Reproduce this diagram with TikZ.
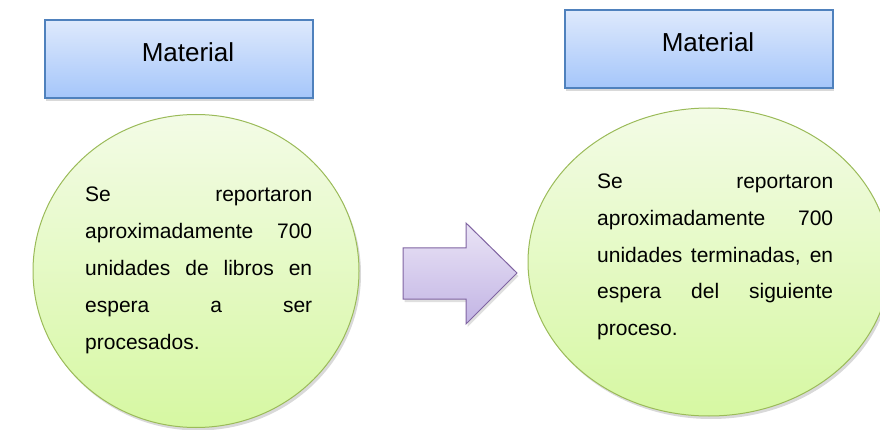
\documentclass[tikz,border=0pt]{standalone}
\usepackage{fontspec}
\setmainfont{Liberation Sans}
\usetikzlibrary{shapes.geometric,shadows}

\definecolor{cajaarriba}{RGB}{222,233,252}
\definecolor{cajaabajo}{RGB}{165,198,250}
\definecolor{cajalinea}{RGB}{79,129,189}
\definecolor{globoarriba}{RGB}{243,251,230}
\definecolor{globoabajo}{RGB}{214,248,162}
\definecolor{globolinea}{RGB}{155,187,89}
\definecolor{flechaarriba}{RGB}{234,228,246}
\definecolor{flechaabajo}{RGB}{194,180,228}
\definecolor{flechalinea}{RGB}{128,100,162}

\tikzset{
  caja/.style={rectangle, draw=cajalinea, line width=1.2pt, top color=cajaarriba, bottom color=cajaabajo,
    minimum width=268pt, minimum height=78pt, inner sep=0pt,
    drop shadow={shadow xshift=1pt, shadow yshift=-3pt, opacity=0.3}},
  titulo/.style={inner sep=0pt, font=\fontsize{26}{30}\selectfont},
  globo/.style={ellipse, draw=globolinea, line width=1pt, top color=globoarriba, bottom color=globoabajo,
    inner sep=0pt, drop shadow={shadow xshift=2pt, shadow yshift=-3pt, opacity=0.3}},
  texto/.style={anchor=base west, inner sep=0pt, align=justify, font=\fontsize{21}{36.8}\selectfont},
  flecha/.style={draw=flechalinea, line width=1pt, top color=flechaarriba, bottom color=flechaabajo,
    line join=miter, drop shadow={shadow xshift=1.5pt, shadow yshift=-3pt, opacity=0.25}}
}

\begin{document}
\begin{tikzpicture}[x=1pt,y=-1pt]
  \useasboundingbox (0,0) rectangle (880,430);
  \clip (0,0) rectangle (880,430);

  \node[caja] (cajaA) at (179,59) {};
  \node[titulo] (tituloA) at ([xshift=9pt,yshift=7pt]cajaA.center) {Material};
  \node[caja] (cajaB) at (699,49) {};
  \node[titulo] (tituloB) at ([xshift=9pt,yshift=7pt]cajaB.center) {Material};

  \node[globo, minimum width=326pt, minimum height=313pt] (globoA) at (196,271) {};
  \node[globo, minimum width=362pt, minimum height=308pt] (globoB) at (709,262) {};

  \node[texto, text width=227pt] (textoA) at (85,202) {\tolerance=10000 \hyphenpenalty=10000
    Se reportaron\linebreak aproximadamente 700\linebreak unidades de libros en\linebreak
    espera a ser\linebreak procesados.};
  \node[texto, text width=236pt] (textoB) at (597,188.5) {\tolerance=10000 \hyphenpenalty=10000
    Se reportaron\linebreak aproximadamente 700\linebreak unidades terminadas, en\linebreak
    espera del siguiente\linebreak proceso.};

  \path[flecha] (403,248) -- (466,248) -- (466,223) -- (517,273) -- (466,324) -- (466,299) -- (403,299) -- cycle;
\end{tikzpicture}
\end{document}
